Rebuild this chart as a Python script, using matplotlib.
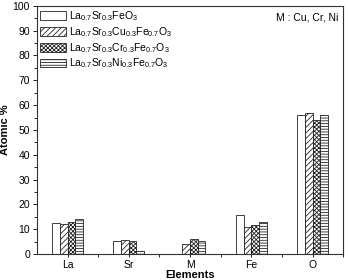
import numpy as np
import matplotlib
matplotlib.use('Agg')
import matplotlib.pyplot as plt
from matplotlib.ticker import MultipleLocator, FixedLocator

plt.rcParams['font.family'] = ['Liberation Sans', 'DejaVu Sans']
plt.rcParams['hatch.linewidth'] = 0.6
plt.rcParams['mathtext.default'] = 'regular'

elements = ['La', 'Sr', 'M', 'Fe', 'O']
labels = [r'La$_{0.7}$Sr$_{0.3}$FeO$_3$',
          r'La$_{0.7}$Sr$_{0.3}$Cu$_{0.3}$Fe$_{0.7}$O$_3$',
          r'La$_{0.7}$Sr$_{0.3}$Cr$_{0.3}$Fe$_{0.7}$O$_3$',
          r'La$_{0.7}$Sr$_{0.3}$Ni$_{0.3}$Fe$_{0.7}$O$_3$']
lsfo = [12.3, 5.2, 0, 15.8, 56.2]
lscufo = [12.0, 5.5, 4.2, 10.8, 57.0]
lscrfo = [13.0, 5.3, 6.0, 11.5, 54.2]
lsnfo = [14.0, 1.3, 5.3, 12.7, 56.0]
series = [lsfo, lscufo, lscrfo, lsnfo]
hatches = ['', '//////', 'xxxxxxxx', '------']

fig = plt.figure(figsize=(3.48, 2.8), dpi=100)
ax = fig.add_axes([0.106, 0.093, 0.88, 0.886])

x = np.arange(1, len(elements) + 1)
w = 0.125
for i, vals in enumerate(series):
    ax.bar(x + (i - 1.5) * w, vals, width=w, facecolor='white', edgecolor='#222222',
           hatch=hatches[i], linewidth=0.6, label=labels[i])

ax.set_xlim(0.5, 5.5)
ax.set_ylim(0, 100)
ax.set_xticks(x)
ax.set_xticklabels(elements)
ax.xaxis.set_minor_locator(FixedLocator(x + 0.5))
ax.yaxis.set_major_locator(MultipleLocator(10))
ax.yaxis.set_minor_locator(MultipleLocator(5))
ax.tick_params(axis='both', which='major', labelsize=7.5, length=3, width=0.6, pad=2)
ax.tick_params(axis='x', which='major', direction='inout', length=5)
ax.tick_params(axis='both', which='minor', length=2, width=0.6)
for s in ax.spines.values():
    s.set_linewidth(0.8)
    s.set_color('#333333')

ax.set_xlabel('Elements', fontsize=8, fontweight='bold', labelpad=0)
ax.set_ylabel('Atomic %', fontsize=8, fontweight='bold', labelpad=2)
ax.text(0.985, 0.975, 'M : Cu, Cr, Ni', transform=ax.transAxes, ha='right', va='top', fontsize=7.5)

ax.legend(loc='upper left', fontsize=7.5, frameon=False, handlelength=2.5, handleheight=0.9,
          borderaxespad=0.1, labelspacing=0.2, handletextpad=0.3, borderpad=0.2)

fig.savefig('out.png', dpi=100)
